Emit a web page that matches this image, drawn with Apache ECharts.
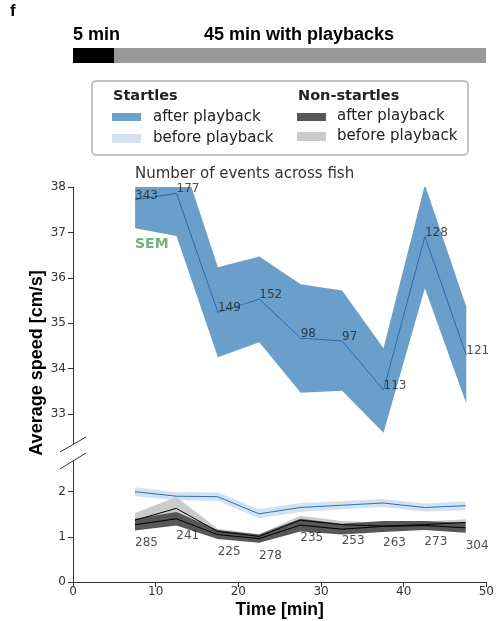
<!DOCTYPE html>
<html><head><meta charset="utf-8">
<script src="https://cdn.jsdelivr.net/npm/echarts@6/dist/echarts.min.js"></script>
<style>html,body{margin:0;padding:0;background:#fff}#c{width:497px;height:621px}</style>
</head><body><div id="c"></div>
<script>
// ---- data ----
const timeMin = [7.5, 12.5, 17.5, 22.5, 27.5, 32.5, 37.5, 42.5, 47.5];

const startleAfterMean  = [37.72, 37.86, 35.24, 35.53, 34.67, 34.61, 33.53, 36.91, 34.30];
const startleAfterUpper = [38.35, 39.00, 36.23, 36.47, 35.86, 35.72, 34.45, 38.05, 35.36];
const startleAfterLower = [37.09, 36.92, 34.25, 34.58, 33.47, 33.51, 32.59, 35.77, 33.23];
const startleAfterCounts = [343, 177, 149, 152, 98, 97, 113, 128, 121];

const startleBeforeMean = [2.00, 1.90, 1.89, 1.51, 1.65, 1.70, 1.75, 1.65, 1.69];
const startleBeforeSem  = [0.10, 0.09, 0.09, 0.10, 0.10, 0.09, 0.09, 0.09, 0.10];

const nonBeforeMean = [1.37, 1.63, 1.12, 1.01, 1.37, 1.27, 1.24, 1.27, 1.32];
const nonBeforeSem  = [0.16, 0.25, 0.06, 0.05, 0.10, 0.08, 0.07, 0.07, 0.07];
const nonAfterMean  = [1.27, 1.40, 1.05, 0.96, 1.26, 1.17, 1.23, 1.25, 1.20];
const nonAfterSem   = [0.13, 0.15, 0.10, 0.09, 0.14, 0.12, 0.12, 0.10, 0.11];
const nonStartleCounts = [285, 241, 225, 278, 235, 253, 263, 273, 304];
const countLabelY = [0.87, 1.02, 0.66, 0.57, 0.97, 0.90, 0.86, 0.88, 0.81];

const upperTicks = [33, 34, 35, 36, 37, 38];
const lowerTicks = [0, 1, 2];

// ---- helpers ----
const pairs = ys => timeMin.map((x, i) => [x, ys[i]]);
function band(lower, upper, color, axis, z) {
  return {
    type: 'custom', xAxisIndex: axis, yAxisIndex: axis, z: z, silent: true, clip: true,
    data: timeMin.map((x, i) => [x, lower[i], upper[i]]),
    encode: { x: 0, y: [1, 2] },
    renderItem: function (params, api) {
      if (params.dataIndex !== 0) return null;
      const pts = [];
      for (let i = 0; i < timeMin.length; i++) pts.push(api.coord([timeMin[i], upper[i]]));
      for (let i = timeMin.length - 1; i >= 0; i--) pts.push(api.coord([timeMin[i], lower[i]]));
      const cs = params.coordSys;
      return {
        type: 'group',
        clipPath: { type: 'rect', shape: { x: cs.x, y: cs.y, width: cs.width, height: cs.height } },
        children: [{ type: 'polygon', shape: { points: pts }, style: { fill: color, stroke: 'none' } }]
      };
    }
  };
}
function line(ys, color, axis, z) {
  return { type: 'line', xAxisIndex: axis, yAxisIndex: axis, data: pairs(ys), symbol: 'none',
    lineStyle: { color: color, width: 1 }, z: z, silent: true, clip: true };
}
const minus = (m, s) => m.map((v, i) => v - s[i]);
const plus = (m, s) => m.map((v, i) => v + s[i]);

const axisCol = '#333';
const tickFont = { fontFamily: 'DejaVu Sans', fontSize: 12, color: '#333' };

const option = {
  backgroundColor: '#fff',
  animation: false,
  grid: [
    { left: 73, right: 10, top: 187, height: 257 },
    { left: 73, right: 10, top: 461, height: 121 }
  ],
  xAxis: [
    { gridIndex: 0, type: 'value', min: 0, max: 50, interval: 10, show: false },
    { gridIndex: 1, type: 'value', min: 0, max: 50, interval: 10,
      axisLine: { show: true, lineStyle: { color: axisCol, width: 1 } },
      axisTick: { show: true, length: 5, lineStyle: { color: axisCol } },
      axisLabel: Object.assign({ margin: 4 }, tickFont),
      splitLine: { show: false },
      name: 'Time [min]', nameLocation: 'middle', nameGap: 19,
      nameTextStyle: { fontFamily: 'Liberation Sans', fontWeight: 'bold', fontSize: 17.5, color: '#000' } }
  ],
  yAxis: [
    { gridIndex: 0, type: 'value', min: 32.34, max: 38,
      axisLine: { show: true, lineStyle: { color: axisCol, width: 1 } },
      axisTick: { show: true, length: 5, lineStyle: { color: axisCol }, customValues: upperTicks },
      axisLabel: Object.assign({ margin: 7, customValues: upperTicks }, tickFont),
      splitLine: { show: false } },
    { gridIndex: 1, type: 'value', min: 0, max: 2.68,
      axisLine: { show: true, lineStyle: { color: axisCol, width: 1 } },
      axisTick: { show: true, length: 5, lineStyle: { color: axisCol }, customValues: lowerTicks },
      axisLabel: Object.assign({ margin: 7, customValues: lowerTicks }, tickFont),
      splitLine: { show: false } }
  ],
  series: [
    band(startleAfterLower, startleAfterUpper, '#6a9fcb', 0, 2),
    line(startleAfterMean, '#2869b0', 0, 4),
    { type: 'scatter', xAxisIndex: 0, yAxisIndex: 0, data: pairs(startleAfterMean), symbolSize: 0, z: 6, silent: true,
      label: { show: true, position: 'right', distance: 0, offset: [0, -4],
        formatter: p => String(startleAfterCounts[p.dataIndex]),
        fontFamily: 'DejaVu Sans', fontSize: 12, color: '#222' } },

    band(minus(startleBeforeMean, startleBeforeSem), plus(startleBeforeMean, startleBeforeSem), '#d2e2f1', 1, 2),
    band(minus(nonBeforeMean, nonBeforeSem), plus(nonBeforeMean, nonBeforeSem), '#cbcbcb', 1, 2),
    band(minus(nonAfterMean, nonAfterSem), plus(nonAfterMean, nonAfterSem), '#575757', 1, 3),
    line(startleBeforeMean, '#2a72b8', 1, 4),
    line(nonBeforeMean, '#000', 1, 4),
    line(nonAfterMean, '#000', 1, 4),
    { type: 'scatter', xAxisIndex: 1, yAxisIndex: 1, data: pairs(countLabelY), symbolSize: 0, z: 6, silent: true,
      label: { show: true, position: 'right', distance: 0,
        formatter: p => String(nonStartleCounts[p.dataIndex]),
        fontFamily: 'DejaVu Sans', fontSize: 12, color: '#222' } }
  ],
  graphic: [
    { type: 'text', left: 10, top: 3, style: { text: 'f', font: 'bold 17px "Liberation Sans"', fill: '#000' } },
    { type: 'text', x: 73, y: 35, style: { text: '5 min', font: 'bold 18px "Liberation Sans"', fill: '#000', textVerticalAlign: 'middle' } },
    { type: 'text', x: 204, y: 35, style: { text: '45 min with playbacks', font: 'bold 18px "Liberation Sans"', fill: '#000', textVerticalAlign: 'middle' } },
    { type: 'rect', shape: { x: 73, y: 48, width: 41, height: 15 }, style: { fill: '#000' } },
    { type: 'rect', shape: { x: 114, y: 48, width: 372, height: 15 }, style: { fill: '#999' } },
    { type: 'rect', shape: { x: 92, y: 81, width: 376, height: 74, r: 4 }, style: { fill: '#fff', stroke: '#b0b0b0', lineWidth: 1.5 } },
    { type: 'text', x: 113, y: 96, style: { text: 'Startles', font: 'bold 14.5px "DejaVu Sans"', fill: '#222', textVerticalAlign: 'middle' } },
    { type: 'rect', shape: { x: 112, y: 113, width: 29, height: 8 }, style: { fill: '#6a9fcb' } },
    { type: 'text', x: 153, y: 117, style: { text: 'after playback', font: '15px "DejaVu Sans"', fill: '#222', textVerticalAlign: 'middle' } },
    { type: 'rect', shape: { x: 112, y: 134, width: 29, height: 9 }, style: { fill: '#d2e2f1' } },
    { type: 'text', x: 153, y: 138, style: { text: 'before playback', font: '15px "DejaVu Sans"', fill: '#222', textVerticalAlign: 'middle' } },
    { type: 'text', x: 298, y: 96, style: { text: 'Non-startles', font: 'bold 14.5px "DejaVu Sans"', fill: '#222', textVerticalAlign: 'middle' } },
    { type: 'rect', shape: { x: 297, y: 113, width: 29, height: 8 }, style: { fill: '#575757' } },
    { type: 'text', x: 337, y: 116, style: { text: 'after playback', font: '15px "DejaVu Sans"', fill: '#222', textVerticalAlign: 'middle' } },
    { type: 'rect', shape: { x: 297, y: 132, width: 29, height: 9 }, style: { fill: '#cbcbcb' } },
    { type: 'text', x: 337, y: 136, style: { text: 'before playback', font: '15px "DejaVu Sans"', fill: '#222', textVerticalAlign: 'middle' } },
    { type: 'text', x: 135, y: 174, style: { text: 'Number of events across fish', font: '15px "DejaVu Sans"', fill: '#333', textVerticalAlign: 'middle' } },
    { type: 'text', x: 135, y: 244, style: { text: 'SEM', font: 'bold 14px "DejaVu Sans"', fill: '#6cb67c', textVerticalAlign: 'middle' } },
    { type: 'text', x: 37, y: 363, rotation: Math.PI / 2,
      style: { text: 'Average speed [cm/s]', font: 'bold 18px "Liberation Sans"', fill: '#000', textAlign: 'center', textVerticalAlign: 'middle' } },
    { type: 'line', shape: { x1: 60, y1: 452, x2: 86, y2: 437 }, style: { stroke: '#333', lineWidth: 1 } },
    { type: 'line', shape: { x1: 60, y1: 469, x2: 86, y2: 453 }, style: { stroke: '#333', lineWidth: 1 } }
  ]
};

const chart = echarts.init(document.getElementById('c'), null, { renderer: 'canvas' });
chart.setOption(option);
</script>
</body></html>
